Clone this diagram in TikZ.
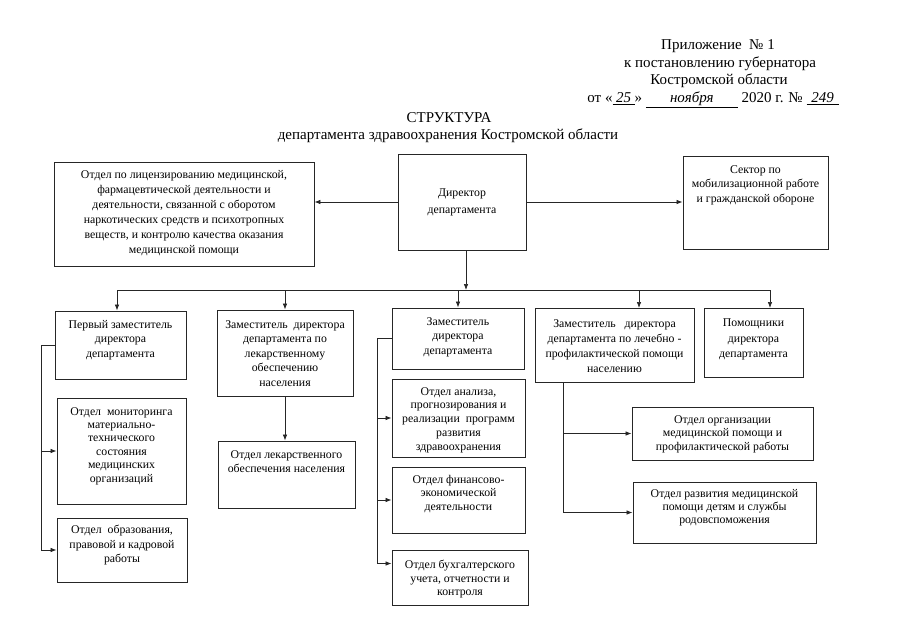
\documentclass[tikz,border=0pt]{standalone}
\usepackage{fontspec}
\setmainfont{Liberation Serif}
\usetikzlibrary{arrows.meta,fit,calc}
\tikzset{
  boxst/.style={draw=black!85, line width=0.9pt, inner sep=0pt, rectangle},
  txtst/.style={inner sep=0pt, align=center, font=\fontsize{11.8}{14.5}\selectfont},
  hdr/.style={inner sep=0pt, anchor=base, font=\fontsize{15}{18}\selectfont},
  ln/.style={draw=black!85, line width=0.7pt},
  arr/.style={ln, -{Latex[length=6pt,width=4.5pt]}}
}
\newcommand\obox[8]{%
  \node[boxst, fit={(#2,#3) (#4,#5)}] (#1) {};
  \node[txtst, #7, anchor=north, yshift=3pt] (#1t) at (#1.north |- 0,#6) {#8};}
\begin{document}
\begin{tikzpicture}[x=1pt, y=-1pt]
\useasboundingbox[fill=white] (0,0) rectangle (905,640);
% header
\node[hdr] (h1) at (718,49.5) {Приложение\ \ № 1};
\node[hdr] (h2) at (720,67.5) {к постановлению губернатора};
\node[hdr] (h3) at (719,84.5) {Костромской области};
\node[hdr] (h4) at (713,102.5) {от «\underline{\makebox[22pt]{\textit{25}}}» \underline{\makebox[92pt]{\textit{ноября}}} 2020 г. № \underline{\makebox[32pt]{\textit{249}}}};
\node[hdr] (t1) at (449,122.5) {СТРУКТУРА};
\node[hdr] (t2) at (448,139.5) {департамента здравоохранения Костромской области};
% boxes
\obox{lic}{54}{162}{314}{266}{173}{font=\fontsize{11.8}{15}\selectfont}{Отдел по лицензированию медицинской,\\фармацевтической деятельности и\\деятельности, связанной с оборотом\\наркотических средств и психотропных\\веществ, и контролю качества оказания\\медицинской помощи}
\obox{dir}{398}{154}{526}{250}{192}{font=\fontsize{11.8}{16.5}\selectfont}{Директор\\департамента}
\obox{sect}{683}{156}{828}{249}{168}{}{Сектор по\\мобилизационной работе\\и гражданской обороне}
\obox{dep1}{55}{311}{186}{379}{323}{}{Первый заместитель\\директора\\департамента}
\obox{dep2}{217}{310}{353}{396}{323}{}{Заместитель\ \ директора\\департамента по\\лекарственному\\обеспечению\\населения}
\obox{dep3}{392}{308}{524}{369}{320}{}{Заместитель\\директора\\департамента}
\obox{dep4}{535}{308}{694}{382}{322}{font=\fontsize{11.8}{15.3}\selectfont}{Заместитель\ \ \ директора\\департамента по лечебно -\\профилактической помощи\\населению}
\obox{asst}{704}{308}{803}{377}{322}{font=\fontsize{11.8}{15.5}\selectfont}{Помощники\\директора\\департамента}
\obox{mon}{57}{398}{186}{504}{410}{font=\fontsize{11.8}{13.4}\selectfont}{Отдел\ \ мониторинга\\материально-\\технического\\состояния\\медицинских\\организаций}
\obox{edu}{57}{518}{187}{582}{528}{}{Отдел\ \ образования,\\правовой и кадровой\\работы}
\obox{lek}{218}{441}{355}{508}{453}{}{Отдел лекарственного\\обеспечения населения}
\obox{ana}{392}{379}{525}{457}{390}{font=\fontsize{11.8}{13.75}\selectfont}{Отдел анализа,\\прогнозирования и\\реализации\ \ программ\\развития\\здравоохранения}
\obox{fin}{392}{467}{525}{533}{478}{font=\fontsize{11.8}{13.5}\selectfont}{Отдел финансово-\\экономической\\деятельности}
\obox{acc}{392}{550}{528}{605}{563}{font=\fontsize{11.8}{13.5}\selectfont}{Отдел бухгалтерского\\учета, отчетности и\\контроля}
\obox{org}{632}{407}{813}{460}{418}{font=\fontsize{11.8}{13.5}\selectfont}{Отдел организации\\медицинской помощи и\\профилактической работы}
\obox{dev}{633}{482}{816}{543}{492}{font=\fontsize{11.8}{13}\selectfont}{Отдел развития медицинской\\помощи детям и службы\\родовспоможения}
% connectors
\draw[arr] (dir.west) -- (dir.west -| lic.east);
\draw[arr] (dir.east) -- (dir.east -| sect.west);
\coordinate (busL) at (117,290);
\coordinate (busR) at (770,290);
\coordinate (dd) at (466,250);
\coordinate (d4) at (639,308);
\coordinate (d5) at (770,308);
\draw[arr] (dd) -- (dd |- busL);
\draw[ln] (busL) -- (busR);
\draw[arr] (busL) -- (busL |- dep1.north);
\draw[arr] (busL -| dep2.north) -- (dep2.north);
\draw[arr] (busL -| dep3.north) -- (dep3.north);
\draw[arr] (busL -| d4) -- (d4);
\draw[arr] (busR) -- (d5);
% first deputy
\coordinate (s1) at (41,0);
\draw[arr] (dep1.west) -| (s1 |- edu.west) -- (edu.west);
\draw[arr] (s1 |- mon.west) -- (mon.west);
% second deputy
\draw[arr] (dep2.south) -- (dep2.south |- lek.north);
% third deputy
\coordinate (s3) at (377,0);
\coordinate (a3) at ([yshift=14pt]acc.west);
\draw[arr] (dep3.west) -| (s3 |- a3) -- (a3);
\draw[arr] (s3 |- ana.west) -- (ana.west);
\draw[arr] (s3 |- fin.west) -- (fin.west);
% fourth deputy
\coordinate (s4) at (563,0);
\draw[arr] (s4 |- dep4.south) -- (s4 |- dev.west) -- (dev.west);
\draw[arr] (s4 |- org.west) -- (org.west);
\end{tikzpicture}
\end{document}
